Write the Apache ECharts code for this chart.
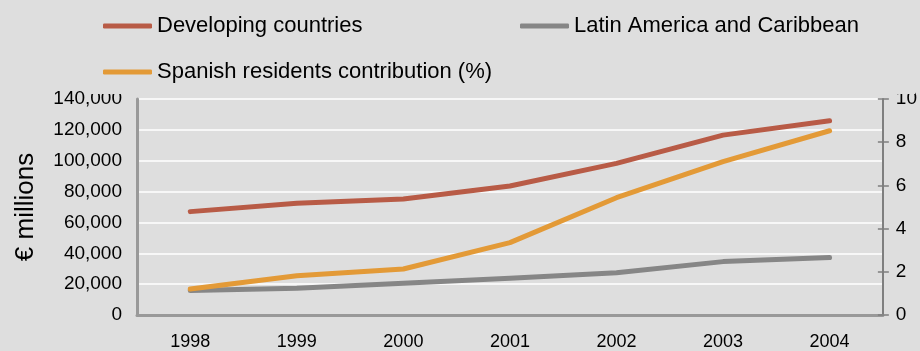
<!DOCTYPE html>
<html>
<head>
<meta charset="utf-8">
<script src="https://cdn.jsdelivr.net/npm/echarts@6/dist/echarts.min.js"></script>
<style>
  html, body { margin: 0; padding: 0; background: #dedede; }
  #chart { width: 920px; height: 351px; }
</style>
</head>
<body>
<div id="chart"></div>
<script>
// Official development aid flows, 1998-2004
const years = ['1998', '1999', '2000', '2001', '2002', '2003', '2004'];
const developingCountries = [67000, 72400, 75200, 83600, 98300, 116600, 125900];
const latinAmerica = [15800, 17300, 20500, 23800, 27400, 34600, 37200];
const spanishContribution = [1.2, 1.82, 2.13, 3.35, 5.43, 7.1, 8.53];
const leftTicks = [0, 20000, 40000, 60000, 80000, 100000, 120000, 140000];
const rightTicks = [0, 2, 4, 6, 8, 10];

const FONT = 'Liberation Sans, Arial, sans-serif';
const BG = '#dedede';

function thousands(v) {
  return String(v).replace(/\B(?=(\d{3})+(?!\d))/g, ',');
}

const chart = echarts.init(document.getElementById('chart'), null, { renderer: 'canvas' });

const legendBase = {
  icon: 'roundRect',
  itemWidth: 49,
  itemHeight: 5,
  padding: 0,
  textStyle: { fontFamily: FONT, fontSize: 22, color: '#000' },
  selectedMode: false
};

chart.setOption({
  backgroundColor: BG,
  animation: false,
  legend: [
    Object.assign({}, legendBase, { data: ['Developing countries'], left: 103, top: 15 }),
    Object.assign({}, legendBase, { data: ['Latin America and Caribbean'], left: 520, top: 15 }),
    Object.assign({}, legendBase, { data: ['Spanish residents contribution (%)'], left: 103, top: 61 })
  ],
  grid: { left: 137, right: 35, top: 99, bottom: 36, containLabel: false },
  xAxis: {
    type: 'category',
    data: years,
    boundaryGap: true,
    axisLine: { show: true, lineStyle: { color: '#999999', width: 3 } },
    axisTick: { show: false },
    axisLabel: { fontFamily: FONT, fontSize: 18, color: '#000', margin: 18 },
    splitLine: { show: false }
  },
  yAxis: [
    {
      type: 'value',
      min: 0,
      max: 140000,
      interval: 20000,
      position: 'left',
      name: '€ millions',
      nameLocation: 'middle',
      nameGap: 98,
      nameRotate: 90,
      nameTextStyle: { fontFamily: FONT, fontSize: 26, color: '#000' },
      axisLine: { show: true, lineStyle: { color: '#999999', width: 3 } },
      axisTick: { show: false },
      axisLabel: {
        fontFamily: FONT, fontSize: 19, color: '#000', margin: 15,
        formatter: function (v) { return leftTicks.indexOf(v) >= 0 ? thousands(v) : ''; }
      },
      splitLine: { show: true, lineStyle: { color: '#ffffff', width: 1.5 } }
    },
    {
      type: 'value',
      min: 0,
      max: 10,
      interval: 2,
      position: 'right',
      axisLine: { show: true, lineStyle: { color: '#7f7f7f', width: 2 } },
      axisTick: { show: true, length: 6, lineStyle: { color: '#7f7f7f', width: 1.5 } },
      axisLabel: {
        fontFamily: FONT, fontSize: 19, color: '#000', margin: 13,
        formatter: function (v) { return rightTicks.indexOf(v) >= 0 ? String(v) : ''; }
      },
      splitLine: { show: false }
    },
    {
      // inner half of the right-hand tick marks
      type: 'value',
      min: 0,
      max: 10,
      interval: 2,
      position: 'right',
      axisLine: { show: false },
      axisTick: { show: true, inside: true, length: 5, lineStyle: { color: '#7f7f7f', width: 1.5 } },
      axisLabel: { show: false },
      splitLine: { show: false }
    }
  ],
  series: [
    {
      name: 'Developing countries',
      type: 'line',
      yAxisIndex: 0,
      data: developingCountries,
      symbol: 'none',
      color: '#b85b46',
      lineStyle: { width: 5, color: '#b85b46', cap: 'round', join: 'round' },
      z: 3
    },
    {
      name: 'Latin America and Caribbean',
      type: 'line',
      yAxisIndex: 0,
      data: latinAmerica,
      symbol: 'none',
      color: '#868686',
      lineStyle: { width: 5, color: '#868686', cap: 'round', join: 'round' },
      z: 2
    },
    {
      name: 'Spanish residents contribution (%)',
      type: 'line',
      yAxisIndex: 1,
      data: spanishContribution,
      symbol: 'none',
      color: '#e39a37',
      lineStyle: { width: 5, color: '#e39a37', cap: 'round', join: 'round' },
      z: 4
    }
  ],
  graphic: [
    {
      // legend panel sitting over the top of the axis labels
      type: 'rect',
      z: 1,
      silent: true,
      shape: { x: 90, y: 0, width: 825, height: 94 },
      style: { fill: BG }
    }
  ]
});
</script>
</body>
</html>
